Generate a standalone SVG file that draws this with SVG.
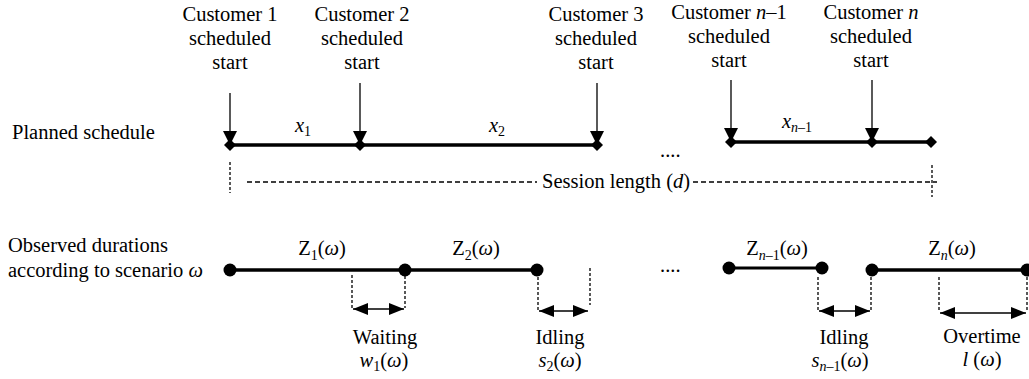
<svg xmlns="http://www.w3.org/2000/svg" width="1029" height="379" viewBox="0 0 1029 379" font-family="'Liberation Serif', 'Times New Roman', Times, 'DejaVu Serif', serif">
<style>
text{font-family:"Liberation Serif","Times New Roman",Times,"DejaVu Serif",serif;font-size:20.5px;fill:#000}
.m{text-anchor:middle}
.i{font-style:italic}
.sub{font-size:14px}
.thick{stroke:#000;stroke-width:3.5;fill:none}
.dot{stroke:#000;stroke-width:1.3;stroke-dasharray:3 2;fill:none}
.dash{stroke:#000;stroke-width:1.3;stroke-dasharray:5 3;fill:none}
.dbl{stroke:#000;stroke-width:1.6;fill:none;marker-start:url(#ah);marker-end:url(#ah)}
.down{stroke:#000;stroke-width:1.3;fill:none;marker-end:url(#tri)}
</style>
<defs>
<marker id="tri" markerUnits="userSpaceOnUse" markerWidth="14" markerHeight="16" refX="14" refY="7" orient="auto"><path d="M0,0 L14,7 L0,14 Z" fill="#000"/></marker>
<marker id="ah" markerUnits="userSpaceOnUse" markerWidth="16" markerHeight="14" refX="15" refY="6" orient="auto-start-reverse"><path d="M0,0 L15,6 L0,12 Z" fill="#000"/></marker>
<path id="dia" d="M0,-6 L6,0 L0,6 L-6,0 Z" fill="#000"/>
</defs>

<g id="row-labels">
<text x="12" y="139">Planned schedule</text>
<text x="8" y="252">Observed durations</text>
<text x="8" y="277">according to scenario <tspan class="i">ω</tspan></text>
</g>

<g id="customer1">
<text class="m" x="230" y="21">Customer 1</text>
<text class="m" x="230" y="45">scheduled</text>
<text class="m" x="230" y="69">start</text>
</g>
<g id="customer2">
<text class="m" x="362" y="21">Customer 2</text>
<text class="m" x="362" y="45">scheduled</text>
<text class="m" x="362" y="69">start</text>
</g>
<g id="customer3">
<text class="m" x="596" y="21">Customer 3</text>
<text class="m" x="596" y="45">scheduled</text>
<text class="m" x="596" y="69">start</text>
</g>
<g id="customer-n-1">
<text class="m" x="729" y="19">Customer <tspan class="i">n</tspan>–1</text>
<text class="m" x="729" y="43">scheduled</text>
<text class="m" x="729" y="67">start</text>
</g>
<g id="customer-n">
<text class="m" x="871" y="19">Customer <tspan class="i">n</tspan></text>
<text class="m" x="871" y="43">scheduled</text>
<text class="m" x="871" y="67">start</text>
</g>

<g id="connectors">
<line class="thick" x1="230" y1="145" x2="597" y2="145"/>
<line class="thick" x1="731" y1="142" x2="931" y2="142"/>
<line class="down" x1="230" y1="93" x2="230" y2="145"/>
<line class="down" x1="360" y1="83" x2="360" y2="145"/>
<line class="down" x1="597" y1="83" x2="597" y2="145"/>
<line class="down" x1="731" y1="80" x2="731" y2="142"/>
<line class="down" x1="872" y1="80" x2="872" y2="142"/>
<use href="#dia" x="230" y="145"/>
<use href="#dia" x="360" y="145"/>
<use href="#dia" x="597" y="145"/>
<use href="#dia" x="731" y="142"/>
<use href="#dia" x="872" y="142"/>
<use href="#dia" x="931" y="142"/>
<line class="dot" x1="230" y1="162" x2="230" y2="193"/>
<line class="dot" x1="932" y1="165" x2="932" y2="197"/>
<line class="dash" x1="247" y1="182" x2="537" y2="182"/>
<line class="dash" x1="693" y1="182" x2="937" y2="182"/>
<line class="thick" x1="230" y1="270" x2="537" y2="270"/>
<line class="thick" x1="729" y1="268" x2="822" y2="268" style="stroke-width:3"/>
<line class="thick" x1="872" y1="270" x2="1027" y2="270"/>
<circle cx="230" cy="270" r="6.5"/>
<circle cx="405" cy="270" r="6.5"/>
<circle cx="537" cy="270" r="6.5"/>
<circle cx="729" cy="268" r="6.5"/>
<circle cx="822" cy="268" r="6.5"/>
<circle cx="872" cy="270" r="6.5"/>
<circle cx="1027" cy="270" r="6.5"/>
<line class="dot" x1="352" y1="275" x2="352" y2="308"/>
<line class="dot" x1="405" y1="276" x2="405" y2="308"/>
<line class="dbl" x1="353" y1="309" x2="404" y2="309"/>
<line class="dot" x1="538" y1="277" x2="538" y2="310"/>
<line class="dot" x1="590" y1="268" x2="590" y2="305"/>
<line class="dbl" x1="539" y1="311" x2="588" y2="311"/>
<line class="dot" x1="818" y1="277" x2="818" y2="310"/>
<line class="dot" x1="871" y1="277" x2="871" y2="310"/>
<line class="dbl" x1="819" y1="311" x2="870" y2="311"/>
<line class="dot" x1="939" y1="277" x2="939" y2="311"/>
<line class="dot" x1="1027" y1="277" x2="1027" y2="312"/>
<line class="dbl" x1="940" y1="313" x2="1026" y2="313"/>
</g>

<g id="duration-labels">
<text class="m" x="303" y="132"><tspan class="i">x</tspan><tspan class="sub" dy="4">1</tspan></text>
<text class="m" x="497" y="132"><tspan class="i">x</tspan><tspan class="sub" dy="4">2</tspan></text>
<text class="m" x="797" y="128"><tspan class="i">x</tspan><tspan class="sub" dy="4"><tspan class="i">n</tspan>–1</tspan></text>
<text x="542" y="188">Session length (<tspan class="i">d</tspan>)</text>
<text x="660" y="157">....</text>
<text x="660" y="272">....</text>
<text class="m" x="322" y="255">Z<tspan class="sub" dy="5">1</tspan><tspan dy="-5">(</tspan><tspan class="i">ω</tspan>)</text>
<text class="m" x="476" y="255">Z<tspan class="sub" dy="5">2</tspan><tspan dy="-5">(</tspan><tspan class="i">ω</tspan>)</text>
<text class="m" x="777" y="255">Z<tspan class="sub" dy="5"><tspan class="i">n</tspan>–1</tspan><tspan dy="-5">(</tspan><tspan class="i">ω</tspan>)</text>
<text class="m" x="952" y="255">Z<tspan class="sub i" dy="5">n</tspan><tspan dy="-5">(</tspan><tspan class="i">ω</tspan>)</text>
</g>

<g id="waiting">
<text class="m" x="385" y="344">Waiting</text>
<text class="m" x="384" y="367"><tspan class="i">w</tspan><tspan class="sub" dy="4">1</tspan><tspan dy="-4">(</tspan><tspan class="i">ω</tspan>)</text>
</g>
<g id="idling2">
<text class="m" x="560" y="344">Idling</text>
<text class="m" x="560" y="367"><tspan class="i">s</tspan><tspan class="sub" dy="4">2</tspan><tspan dy="-4">(</tspan><tspan class="i">ω</tspan>)</text>
</g>
<g id="idling-n-1">
<text class="m" x="844" y="344">Idling</text>
<text class="m" x="840" y="367"><tspan class="i">s</tspan><tspan class="sub" dy="4"><tspan class="i">n</tspan>–1</tspan><tspan dy="-4">(</tspan><tspan class="i">ω</tspan>)</text>
</g>
<g id="overtime">
<text class="m" x="982" y="343">Overtime</text>
<text class="m" x="982" y="366"><tspan class="i">l</tspan> (<tspan class="i">ω</tspan>)</text>
</g>
</svg>
